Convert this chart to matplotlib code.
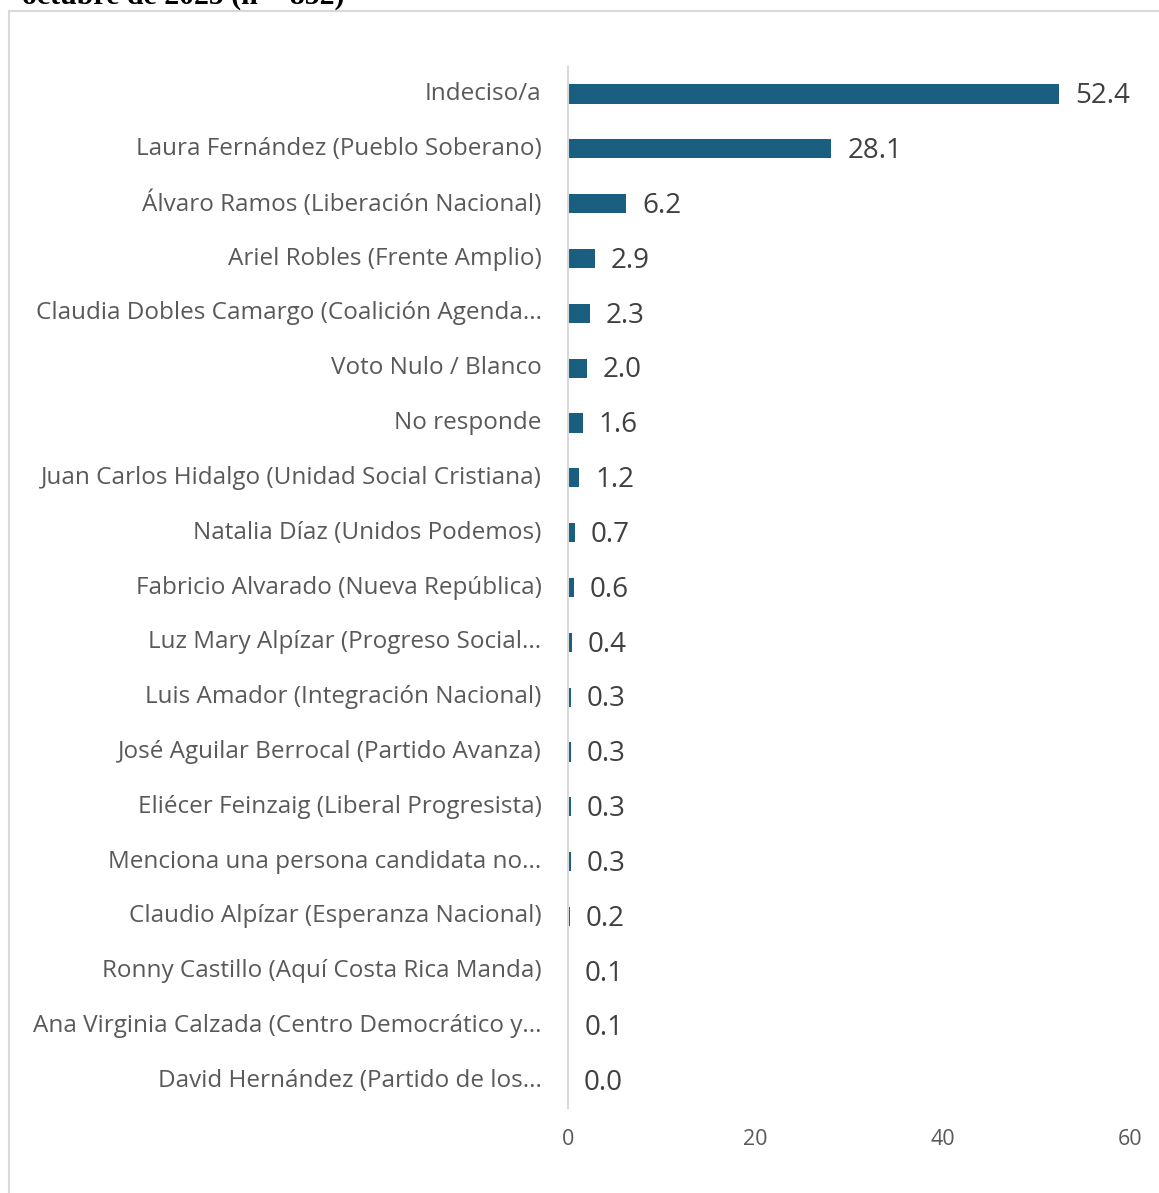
import matplotlib.pyplot as plt
from matplotlib.patches import Rectangle
from matplotlib.transforms import ScaledTranslation

# datos de la encuesta (porcentajes)
categorias = [
    'Indeciso/a',
    'Laura Fernández (Pueblo Soberano)',
    'Álvaro Ramos (Liberación Nacional)',
    'Ariel Robles (Frente Amplio)',
    'Claudia Dobles Camargo (Coalición Agenda...',
    'Voto Nulo / Blanco',
    'No responde',
    'Juan Carlos Hidalgo (Unidad Social Cristiana)',
    'Natalia Díaz (Unidos Podemos)',
    'Fabricio Alvarado (Nueva República)',
    'Luz Mary Alpízar (Progreso Social...',
    'Luis Amador (Integración Nacional)',
    'José Aguilar Berrocal (Partido Avanza)',
    'Eliécer Feinzaig (Liberal Progresista)',
    'Menciona una persona candidata no...',
    'Claudio Alpízar (Esperanza Nacional)',
    'Ronny Castillo (Aquí Costa Rica Manda)',
    'Ana Virginia Calzada (Centro Democrático y...',
    'David Hernández (Partido de los...',
]
valores = [52.4, 28.1, 6.2, 2.9, 2.3, 2.0, 1.6, 1.2, 0.7, 0.6,
           0.4, 0.3, 0.3, 0.3, 0.3, 0.2, 0.1, 0.1, 0.0]
ticks_x = [0, 20, 40, 60]

plt.rcParams['font.family'] = ['Open Sans', 'DejaVu Sans']

fig = plt.figure(figsize=(11.59, 11.93), dpi=100)
ax = fig.add_axes([568 / 1159, 1 - 1108.4 / 1193, (1130 - 568) / 1159, (1108.4 - 66.6) / 1193])

y = list(range(len(categorias)))
ax.barh(y, valores, height=0.35, color='#1a5e80')

# etiquetas de valor
for yi, v in zip(y, valores):
    ax.text(v + 1.7, yi + 0.04, f'{v:.1f}', va='center', ha='left', fontsize=20, color='#404040')

ax.set_yticks(y)
ax.set_yticklabels(categorias, fontsize=17.5, color='#595959')
ax.set_ylim(len(categorias) - 0.5, -0.5)
ax.set_xlim(0, 60)
ax.set_xticks(ticks_x)
ax.set_xticklabels([str(t) for t in ticks_x], fontsize=15.5, color='#595959')
ax.tick_params(axis='both', length=0)
ax.tick_params(axis='y', pad=19)
ax.tick_params(axis='x', pad=15)

# subir un poco las etiquetas de categoria
desplazamiento = ScaledTranslation(0, 3 / 100, fig.dpi_scale_trans)
for lbl in ax.get_yticklabels():
    lbl.set_transform(lbl.get_transform() + desplazamiento)

for s in ['top', 'right', 'bottom']:
    ax.spines[s].set_visible(False)
ax.spines['left'].set_color('#d9d9d9')
ax.spines['left'].set_linewidth(1.5)

# marco del grafico
fig.patches.append(Rectangle((8.5 / 1159, -0.02), 1.05, 1 - 10.5 / 1193 + 0.02,
                             transform=fig.transFigure, fill=False,
                             edgecolor='#d9d9d9', linewidth=1.5))

# titulo recortado arriba
fig.text(22 / 1159, 1 - 4 / 1193, 'octubre de 2025 (n = 852)', fontsize=21.5,
         fontweight='bold', family='Liberation Serif', va='baseline', ha='left')

fig.savefig('out.png', dpi=100)
